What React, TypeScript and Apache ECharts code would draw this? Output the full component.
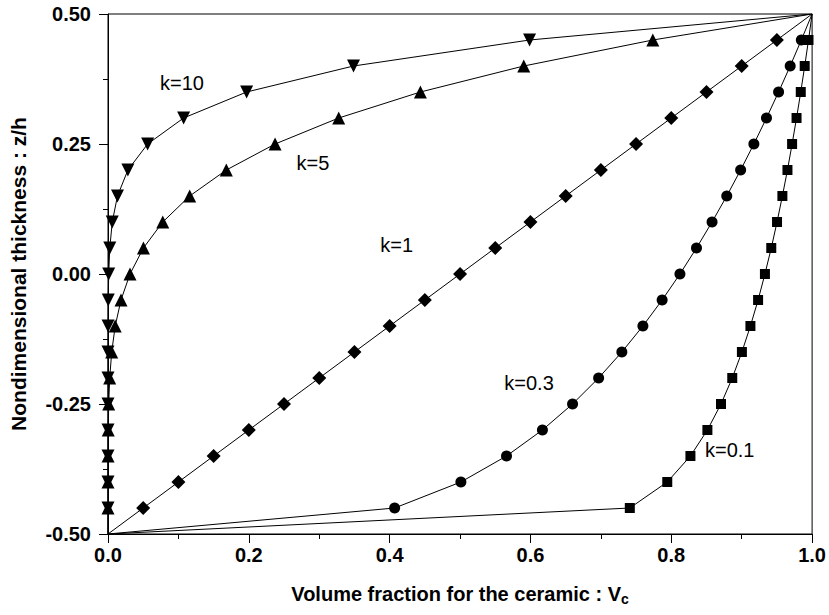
import React, { useEffect, useRef } from "react";
import * as echarts from "echarts";

const zh = [-0.5, -0.45, -0.4, -0.35, -0.3, -0.25, -0.2, -0.15, -0.1, -0.05, 0, 0.05, 0.1, 0.15, 0.2, 0.25, 0.3, 0.35, 0.4, 0.45, 0.5];
const vcK01 = [0, 0.7411, 0.7943, 0.8272, 0.8513, 0.8706, 0.8866, 0.9003, 0.9124, 0.9233, 0.933, 0.942, 0.9502, 0.9578, 0.965, 0.9716, 0.9779, 0.9839, 0.9895, 0.9949, 1];
const vcK03 = [0, 0.4071, 0.5012, 0.566, 0.617, 0.6598, 0.6968, 0.7298, 0.7597, 0.787, 0.8123, 0.8358, 0.8579, 0.8788, 0.8985, 0.9173, 0.9352, 0.9524, 0.9689, 0.9847, 1];
const vcK1 = [0, 0.05, 0.1, 0.15, 0.2, 0.25, 0.3, 0.35, 0.4, 0.45, 0.5, 0.55, 0.6, 0.65, 0.7, 0.75, 0.8, 0.85, 0.9, 0.95, 1];
const vcK5 = [0, 0.0000003, 0.00001, 0.0000759, 0.00032, 0.000977, 0.00243, 0.00525, 0.01024, 0.01845, 0.03125, 0.05033, 0.07776, 0.11603, 0.16807, 0.2373, 0.32768, 0.4437, 0.59049, 0.77378, 1];
const vcK10 = [0, 0, 0, 0, 0.0000001, 0.000001, 0.0000059, 0.0000276, 0.000105, 0.00034, 0.000977, 0.002533, 0.006047, 0.01346, 0.02825, 0.05631, 0.10737, 0.19687, 0.34868, 0.59874, 1];

const labels = [
  { text: "k=10", x: 0.105, y: 0.367 },
  { text: "k=5", x: 0.291, y: 0.2135 },
  { text: "k=1", x: 0.41, y: 0.056 },
  { text: "k=0.3", x: 0.598, y: -0.21 },
  { text: "k=0.1", x: 0.883, y: -0.3385 },
];

const font = "'Liberation Sans', Arial, sans-serif";

function mk(name: string, vals: number[], symbol: string, size: number, rotate = 0) {
  return {
    name,
    type: "line",
    symbol,
    symbolSize: size,
    symbolRotate: rotate,
    showAllSymbol: true,
    clip: true,
    lineStyle: { color: "#000", width: 1 },
    itemStyle: { color: "#000" },
    data: vals.map((v, i) => ({
      value: [v, zh[i]],
      symbolSize: i === 0 || i === vals.length - 1 ? 0 : size,
    })),
  };
}

export default function App() {
  const ref = useRef<HTMLDivElement>(null);
  useEffect(() => {
    const chart = echarts.init(ref.current!, null, { renderer: "svg" });
    chart.setOption({
      animation: false,
      backgroundColor: "#fff",
      grid: { left: 103, right: 14, top: 14, bottom: 81, show: true, borderColor: "#000", borderWidth: 1 },
      xAxis: {
        type: "value",
        min: 0,
        max: 1,
        interval: 0.2,
        name: "Volume fraction for the ceramic : V{s|c}",
        nameLocation: "middle",
        nameGap: 47,
        nameTextStyle: {
          fontFamily: font, fontWeight: "bold", fontSize: 20, color: "#000",
          rich: { s: { fontFamily: font, fontWeight: "bold", fontSize: 14, verticalAlign: "bottom", padding: [11, 0, 0, 0] } },
        },
        axisLine: { onZero: false, lineStyle: { color: "#000", width: 1 } },
        axisTick: { length: 9, lineStyle: { color: "#000" } },
        minorTick: { show: true, splitNumber: 2, length: 5, lineStyle: { color: "#000" } },
        splitLine: { show: false },
        axisLabel: { fontFamily: font, fontWeight: "bold", fontSize: 20, color: "#000", margin: 11, formatter: (v: number) => v.toFixed(1) },
      },
      yAxis: {
        type: "value",
        min: -0.5,
        max: 0.5,
        interval: 0.25,
        name: "Nondimensional thickness : z/h",
        nameLocation: "middle",
        nameGap: 79,
        nameTextStyle: { fontFamily: font, fontWeight: "bold", fontSize: 21, color: "#000" },
        axisLine: { onZero: false, lineStyle: { color: "#000", width: 1 } },
        axisTick: { length: 9, lineStyle: { color: "#000" } },
        minorTick: { show: true, splitNumber: 2, length: 5, lineStyle: { color: "#000" } },
        splitLine: { show: false },
        axisLabel: { fontFamily: font, fontWeight: "bold", fontSize: 20, color: "#000", margin: 17, formatter: (v: number) => v.toFixed(2) },
      },
      series: [
        mk("k=0.1", vcK01, "rect", 10),
        mk("k=0.3", vcK03, "circle", 11),
        mk("k=1", vcK1, "diamond", 14),
        mk("k=5", vcK5, "triangle", 13),
        mk("k=10", vcK10, "triangle", 13, 180),
      ],
    });
    const g = labels.map((l) => {
      const p = chart.convertToPixel({ gridIndex: 0 }, [l.x, l.y]) as number[];
      return {
        type: "text",
        x: p[0],
        y: p[1],
        style: { text: l.text, fontFamily: font, fontSize: 20, fill: "#000", align: "center", verticalAlign: "middle" },
      };
    });
    chart.setOption({ graphic: g });
    return () => chart.dispose();
  }, []);
  return <div ref={ref} style={{ width: 829, height: 615, position: "absolute", left: 0, top: 0 }} />;
}
